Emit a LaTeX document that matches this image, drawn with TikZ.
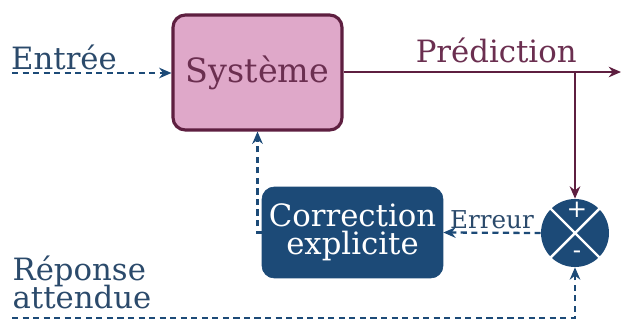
\documentclass[tikz,border=0pt]{standalone}
\usepackage{fontspec}
\setmainfont{DejaVu Serif}
\usepackage{tikz}
\usetikzlibrary{arrows.meta}

\definecolor{bleu}{HTML}{1C4A77}
\definecolor{bleutexte}{HTML}{2B4A6B}
\definecolor{bordeaux}{HTML}{5E1F40}
\definecolor{bordeauxtexte}{HTML}{6B2F50}
\definecolor{rose}{HTML}{DFA8C9}

\begin{document}
\begin{tikzpicture}[x=0.02cm,y=-0.02cm]
    \tikzstyle{every node} = [font=\fontsize{17.5}{19}\selectfont]
    \tikzstyle{block} = [draw, rectangle, rounded corners=7pt, align=center, inner sep=0pt]
    \tikzstyle{fleche} = [-{Stealth[length=7pt,width=6pt]}, line width=1.5pt, bordeaux]
    \tikzstyle{retour} = [-{Stealth[length=7pt,width=6pt]}, dash pattern=on 3.5pt off 2.5pt, line width=1.3pt, bleu]
    \useasboundingbox (0,0) rectangle (621,325);

    % place nodes
    \node[block, fill=rose, draw=bordeaux, line width=1.8pt, text=bordeauxtexte,
          font=\fontsize{19}{21}\selectfont,
          minimum width=3.38cm, minimum height=2.3cm] (systeme) at (257.5,72.5) {Syst\`eme};
    \node[block, fill=bleu, draw=bleu, text=white,
          minimum width=3.62cm, minimum height=1.82cm] (correction) at (352.5,232.5) {Correction\\[-3pt]explicite};
    \node[circle, fill=bleu, minimum size=1.36cm, inner sep=0pt] (comparateur) at (575,233) {};
    \draw[white, line width=1.4pt] (comparateur.45) -- (comparateur.225);
    \draw[white, line width=1.4pt] (comparateur.135) -- (comparateur.315);
    \node[text=white, font=\fontsize{14}{14}\selectfont] at (577,210) {+};
    \node[text=white, font=\fontsize{14}{14}\selectfont] at (577,255) {-};

    \node[text=bleutexte] (entree) at (64,57) {Entr\'ee};
    \node[text=bleutexte, align=left] (reponse) at (82,282) {R\'eponse\\[-3pt]attendue};
    \coordinate (entreeDebut) at (12,73);
    \coordinate (sortie) at (621,72);
    \coordinate (branche) at (575,72);
    \coordinate (reponseDebut) at (12,318);

    % Connections
    \draw[retour] (entreeDebut)--(entreeDebut -| systeme.west);
    \draw[fleche] (systeme.east |- sortie)--node[pos=0.55, above, text=bordeauxtexte, yshift=1pt]{Pr\'ediction}(sortie);
    \draw[fleche] (branche)--(comparateur.north);
    \draw[retour] (comparateur.west)--node[midway, above, text=bleutexte, font=\fontsize{14}{14}\selectfont, yshift=-2pt]{Erreur}(correction.east);
    \draw[retour] (correction.west) -| (systeme.south);
    \draw[retour] (reponseDebut) -| (comparateur.south);
\end{tikzpicture}
\end{document}
